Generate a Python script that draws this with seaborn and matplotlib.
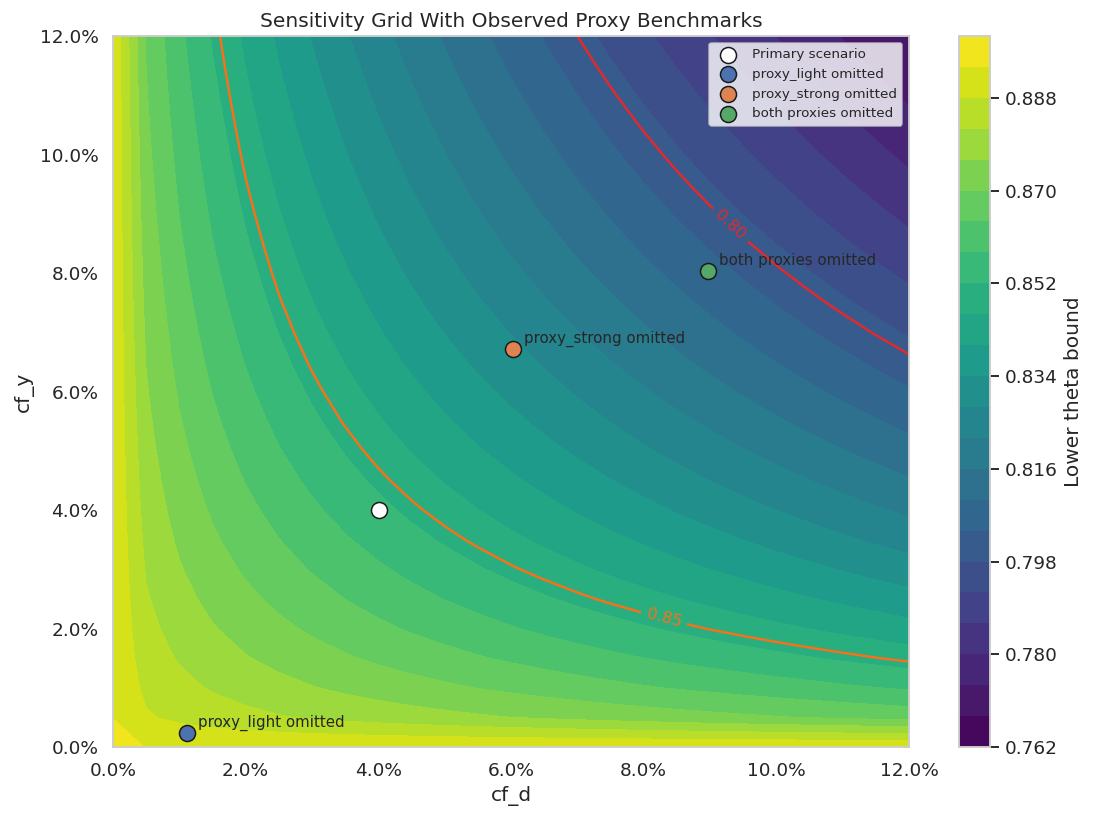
import numpy as np
import matplotlib
matplotlib.use("Agg")
import matplotlib.pyplot as plt
from matplotlib.ticker import PercentFormatter
import seaborn as sns

# confounding grid (runs one step past the 12% view)
cf_d_grid = np.linspace(0.0, 0.125, 26)
cf_y_grid = np.linspace(0.0, 0.125, 26)

theta_hat = 0.900      # estimate with no confounding at all
theta_base = 0.8936    # bound level once confounding is allowed
bias_scale = 0.9848    # sqrt(sigma2 * nu2)

contour_marks = [0.80, 0.85]
contour_colors = ["#e3292b", "#f8701a"]

scenario_names = ["Primary scenario", "proxy_light omitted",
                  "proxy_strong omitted", "both proxies omitted"]
scenario_cf_d = [0.0401, 0.0112, 0.0603, 0.0897]
scenario_cf_y = [0.0400, 0.0024, 0.0672, 0.0803]
scenario_colors = ["white", "#4c72b0", "#dd8452", "#55a868"]


def lower_bound(cf_d, cf_y):
    strength = np.sqrt(cf_y * cf_d / (1.0 - cf_d))
    bound = theta_base - bias_scale * strength
    bound[0, 0] = theta_hat
    return bound


def main():
    sns.set_theme(style="whitegrid", font_scale=1.1)

    D, Y = np.meshgrid(cf_d_grid, cf_y_grid)
    Z = lower_bound(D, Y)
    levels = np.linspace(Z.min(), Z.max(), 24)

    fig = plt.figure(figsize=(1101 / 110, 820 / 110), dpi=110)
    ax = fig.add_axes([0.1026, 0.089, 0.723, 0.8671])
    cax = fig.add_axes([0.871, 0.089, 0.0282, 0.8671])

    filled = ax.contourf(D, Y, Z, levels=levels, cmap="viridis")
    lines = ax.contour(D, Y, Z, levels=contour_marks, colors=contour_colors,
                       linewidths=1.6)
    ax.clabel(lines, fmt="%.2f", fontsize=10.5,
              manual=[(0.0927, 0.0876), (0.0831, 0.0219)])

    for name, x, y, col in zip(scenario_names, scenario_cf_d,
                               scenario_cf_y, scenario_colors):
        ax.scatter(x, y, s=110, color=col, edgecolor="#1a1a1a",
                   linewidth=1, zorder=5, label=name)
        if name != "Primary scenario":
            ax.annotate(name, (x, y), xytext=(7, 4),
                        textcoords="offset points", fontsize=9.8,
                        color="#262626")

    ax.set_xlim(0, 0.12)
    ax.set_ylim(0, 0.12)
    ticks = np.arange(0, 0.121, 0.02)
    ax.set_xticks(ticks)
    ax.set_yticks(ticks)
    ax.xaxis.set_major_formatter(PercentFormatter(1.0, decimals=1))
    ax.yaxis.set_major_formatter(PercentFormatter(1.0, decimals=1))
    ax.grid(False)

    ax.set_xlabel("cf_d")
    ax.set_ylabel("cf_y")
    ax.set_title("Sensitivity Grid With Observed Proxy Benchmarks")
    ax.legend(loc="upper right", fontsize=8.8, framealpha=0.8)

    fig.colorbar(filled, cax=cax, label="Lower theta bound")

    fig.savefig("out.png", dpi=110)


if __name__ == "__main__":
    main()
